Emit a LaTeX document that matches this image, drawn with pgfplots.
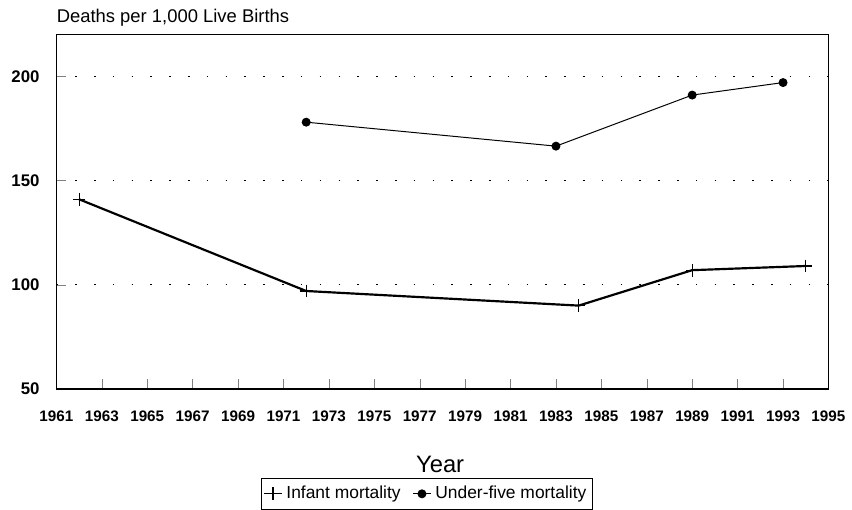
\documentclass[border=0pt]{standalone}
\usepackage{pgfplots}
\pgfplotsset{compat=1.18}
\usepackage{fontspec}
\setmainfont{Liberation Sans}

\begin{document}
\begin{tikzpicture}
\begin{axis}[
    scale only axis,
    clip=false,
    width=390pt, height=179pt,
    xmin=1961, xmax=1995,
    ymin=50, ymax=220,
    xtick={1961,1963,...,1995},
    ytick={50,100,150,200},
    xticklabel style={/pgf/number format/1000 sep={}, yshift=-7.5pt, font=\fontsize{7.7}{8}\selectfont\bfseries},
    yticklabel style={xshift=-5pt, font=\fontsize{8.5}{9}\selectfont\bfseries},
    /pgf/number format/assume math mode=true,
    tick align=inside,
    major tick length=5pt,
    xtick pos=bottom, ytick pos=left,
    axis line style={line width=0.6pt},
    ymajorgrids,
    grid style={black, line width=0.6pt, dash pattern=on 0.8pt off 8.7pt},
    xlabel={Year},
    xlabel style={font=\fontsize{12}{14}\selectfont, at={(axis description cs:0.497,-0.17)}, anchor=north},
    legend style={at={(0.48,-0.251)}, anchor=north, draw=black, line width=0.6pt,
        font=\fontsize{8.8}{10}\selectfont, inner xsep=1pt, inner ysep=1.8pt,
        /tikz/every even column/.append style={column sep=4pt}},
    legend columns=2,
    legend image code/.code={\draw[mark repeat=2, mark phase=2, line width=0.5pt, #1] plot coordinates {(0pt,0pt) (4.5pt,0pt) (9pt,0pt)};},
]
\addplot[black, line width=1.1pt, mark=+, mark size=3.2pt, mark options={line width=0.6pt}] coordinates {
    (1962,141) (1972,97) (1984,90) (1989,107) (1994,109)
};
\addlegendentry{Infant mortality}
\addplot[black, line width=0.5pt, mark=*, mark size=2pt] coordinates {
    (1972,178) (1983,166.5) (1989,191) (1993,197)
};
\addlegendentry{Under-five mortality}
\node[anchor=south west, inner sep=0pt, font=\fontsize{9.3}{10}\selectfont] at (rel axis cs:0,1) [yshift=4pt] {Deaths per 1,000 Live Births};
\path (rel axis cs:0,1) ++(-28.5pt,17.5pt);
\end{axis}
\end{tikzpicture}
\end{document}
